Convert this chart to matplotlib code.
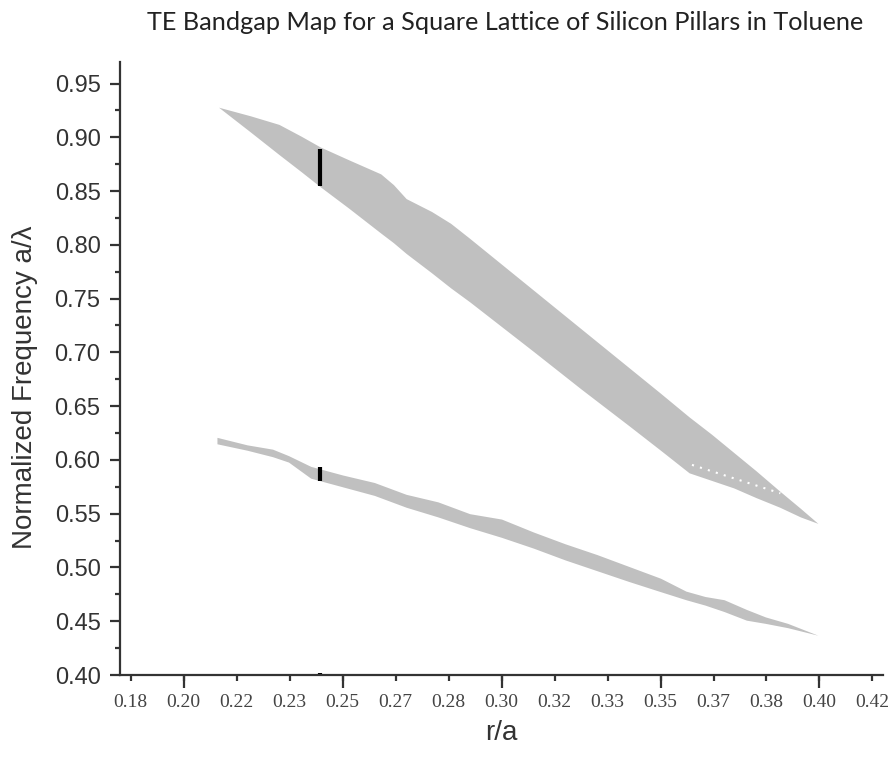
import numpy as np
import matplotlib
matplotlib.use("Agg")
import matplotlib.pyplot as plt
from matplotlib.ticker import FixedLocator, MultipleLocator

# Upper TE gap (between bands 1 and 2)
gap1_r = [0.211, 0.221, 0.230, 0.237, 0.243, 0.252, 0.262, 0.266, 0.270, 0.278,
          0.284, 0.290, 0.300, 0.310, 0.325, 0.340, 0.350, 0.359, 0.366, 0.373,
          0.380, 0.3875, 0.394, 0.3995]
gap1_top = [0.928, 0.920, 0.912, 0.901, 0.891, 0.879, 0.866, 0.856, 0.843, 0.831,
            0.820, 0.806, 0.782, 0.758, 0.722, 0.686, 0.662, 0.640, 0.624, 0.607,
            0.590, 0.571, 0.555, 0.541]
gap1_bot = [0.928, 0.905, 0.884, 0.868, 0.854, 0.834, 0.811, 0.802, 0.792, 0.774,
            0.760, 0.747, 0.724, 0.701, 0.666, 0.632, 0.609, 0.588, 0.581, 0.574,
            0.565, 0.556, 0.547, 0.541]

# Lower TE gap
gap2_r = [0.2105, 0.220, 0.228, 0.233, 0.240, 0.250, 0.260, 0.270, 0.280, 0.290,
          0.300, 0.310, 0.320, 0.330, 0.340, 0.350, 0.358, 0.364, 0.370, 0.377,
          0.383, 0.390, 0.3995]
gap2_top = [0.621, 0.614, 0.610, 0.604, 0.594, 0.586, 0.579, 0.568, 0.561, 0.550,
            0.545, 0.533, 0.522, 0.512, 0.501, 0.490, 0.478, 0.473, 0.470, 0.461,
            0.454, 0.448, 0.437]
gap2_bot = [0.615, 0.609, 0.603, 0.598, 0.583, 0.575, 0.567, 0.556, 0.547, 0.537,
            0.528, 0.518, 0.507, 0.497, 0.487, 0.4775, 0.470, 0.465, 0.459, 0.451,
            0.448, 0.444, 0.437]

# Boundary traced inside the upper gap
inner_r = [0.3599, 0.3877]
inner_f = [0.5954, 0.569]

# Markers at the selected design radius
mark_r = 0.2428
mark_upper = (0.855, 0.889)
mark_lower = (0.580, 0.593)
mark_axis = (0.399, 0.4015)

x_tick_vals = np.arange(11, 26) / 60.0
x_tick_labels = ["0.18", "0.20", "0.22", "0.23", "0.25", "0.27", "0.28", "0.30",
                 "0.32", "0.33", "0.35", "0.37", "0.38", "0.40", "0.42"]
y_tick_vals = [0.40, 0.45, 0.50, 0.55, 0.60, 0.65, 0.70, 0.75, 0.80, 0.85, 0.90, 0.95]

fig = plt.figure(figsize=(8.92, 7.61), dpi=100)
ax = fig.add_axes([0.1345, 0.113, 0.8555, 0.8055])

gray = "#c0c0c0"
ax.fill_between(gap1_r, gap1_bot, gap1_top, color=gray, lw=0)
ax.fill_between(gap2_r, gap2_bot, gap2_top, color=gray, lw=0)
ax.plot(inner_r, inner_f, color="white", lw=1.5, ls=(0, (1.0, 3.0)))

ax.plot([mark_r, mark_r], mark_upper, color="black", lw=3, solid_capstyle="butt")
ax.plot([mark_r, mark_r], mark_lower, color="black", lw=3, solid_capstyle="butt")
ax.plot([mark_r, mark_r], mark_axis, color="black", lw=3, solid_capstyle="butt",
        clip_on=False)

ax.set_xlim(0.18, 0.42)
ax.set_ylim(0.40, 0.97)

for side in ("top", "right"):
    ax.spines[side].set_visible(False)
for side in ("left", "bottom"):
    ax.spines[side].set_linewidth(1.6)
    ax.spines[side].set_color("#333333")

# x axis: labelled short ticks every 1/60, longer ticks every 0.05
ax.xaxis.remove_overlapping_locs = False
ax.xaxis.set_major_locator(FixedLocator(x_tick_vals))
ax.set_xticklabels(x_tick_labels, family="Liberation Serif", fontsize=14,
                   color="#444444")
ax.xaxis.set_minor_locator(FixedLocator([0.20, 0.25, 0.30, 0.35, 0.40]))
ax.tick_params(axis="x", which="major", direction="out", length=4.5, width=1.6,
               color="#333333", pad=9)
ax.tick_params(axis="x", which="minor", direction="out", length=9, width=1.6,
               color="#333333")

ax.yaxis.set_major_locator(FixedLocator(y_tick_vals))
ax.yaxis.set_minor_locator(MultipleLocator(0.025))
ax.set_yticklabels([f"{v:.2f}" for v in y_tick_vals], family="Liberation Sans",
                   fontsize=17, color="#333333")
ax.tick_params(axis="y", which="major", direction="out", length=7, width=1.6,
               color="#333333", pad=7)
ax.tick_params(axis="y", which="minor", direction="out", length=3.5, width=1.6,
               color="#333333")

ax.set_xlabel("r/a", family="Liberation Sans", fontsize=20, color="#333333",
              labelpad=7)
ax.set_ylabel("Normalized Frequency a/\u03bb", family="Liberation Sans",
              fontsize=20, color="#333333")
ax.yaxis.set_label_coords(-0.1075, 0.47)

fig.text(0.566, 0.971, "TE Bandgap Map for a Square Lattice of Silicon Pillars in Toluene",
         family="Lato", fontsize=18.2, color="#222222", ha="center", va="center")

fig.savefig("out.png", dpi=100)
